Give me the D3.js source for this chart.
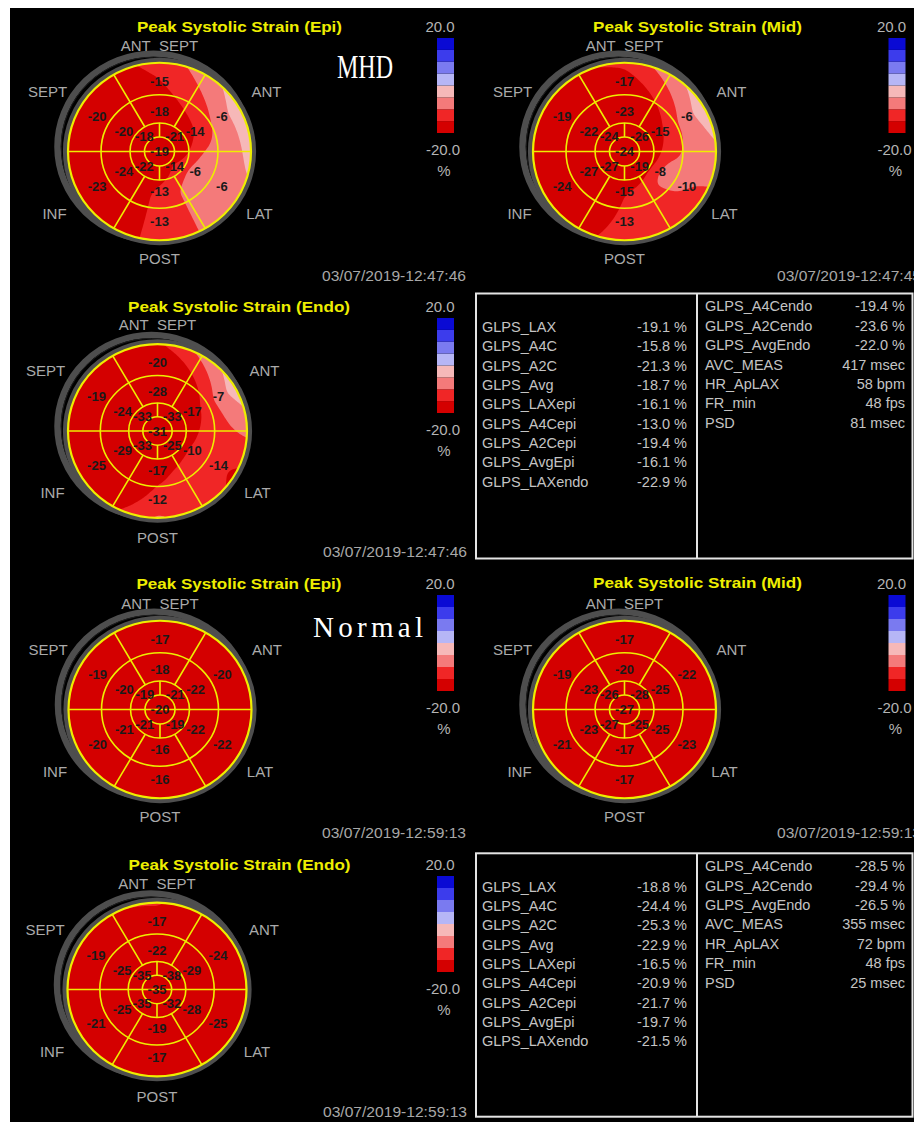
<!DOCTYPE html>
<html>
<head>
<meta charset="utf-8">
<script src="https://cdn.jsdelivr.net/npm/d3@7"></script>
<style>
  html, body { margin: 0; padding: 0; background: #fff; }
  svg { display: block; }
</style>
</head>
<body>
<svg id="chart" width="914" height="1122"></svg>
<script>
// 17-segment order: basal ANT_SEPT, ANT, LAT, POST, INF, SEPT;
// mid ANT_SEPT, ANT, LAT, POST, INF, SEPT;
// apical upper-right, upper-left, lower-left, lower-right; apex
const mhdEpi   = [-15, -6,  -6, -13, -23, -20,   -18, -14,  -6, -13, -24, -20,   -21, -18, -22, -14,   -19];
const mhdMid   = [-17, -6, -10, -13, -24, -19,   -23, -15,  -8, -15, -27, -22,   -26, -24, -27, -19,   -24];
const mhdEndo  = [-20, -7, -14, -12, -25, -19,   -28, -17, -10, -17, -29, -24,   -33, -33, -33, -25,   -31];
const normEpi  = [-17, -20, -22, -16, -20, -19,  -18, -22, -22, -16, -21, -20,   -21, -19, -21, -19,   -20];
const normMid  = [-17, -22, -23, -17, -21, -19,  -20, -25, -25, -17, -23, -23,   -28, -26, -27, -25,   -27];
const normEndo = [-17, -24, -25, -17, -21, -19,  -22, -29, -28, -19, -25, -25,   -38, -35, -35, -32,   -35];

const wallNames = ["ANT_SEPT", "ANT", "LAT", "POST", "INF", "SEPT"];

// colour bar: eight bands from -20 % (bottom) to +20 % (top)
const scaleTicks = ["20.0", "-20.0"];
const scaleUnit = "%";
const bandEdges = [-15, -10, -5, 0, 5, 10, 15];
const bandColors = ["#d40000", "#f02626", "#f47a7a", "#f6b8b8", "#b6b6f6", "#7a7af0", "#3c3cec", "#0a0ad4"];

// global strain tables
const leftLabels  = ["GLPS_LAX", "GLPS_A4C", "GLPS_A2C", "GLPS_Avg", "GLPS_LAXepi", "GLPS_A4Cepi", "GLPS_A2Cepi", "GLPS_AvgEpi", "GLPS_LAXendo"];
const rightLabels = ["GLPS_A4Cendo", "GLPS_A2Cendo", "GLPS_AvgEndo", "AVC_MEAS", "HR_ApLAX", "FR_min", "PSD"];
const mhdLeftValues   = ["-19.1 %", "-15.8 %", "-21.3 %", "-18.7 %", "-16.1 %", "-13.0 %", "-19.4 %", "-16.1 %", "-22.9 %"];
const mhdRightValues  = ["-19.4 %", "-23.6 %", "-22.0 %", "417 msec", "58 bpm", "48 fps", "81 msec"];
const normLeftValues  = ["-18.8 %", "-24.4 %", "-25.3 %", "-22.9 %", "-16.5 %", "-20.9 %", "-21.7 %", "-19.7 %", "-21.5 %"];
const normRightValues = ["-28.5 %", "-29.4 %", "-26.5 %", "355 msec", "72 bpm", "48 fps", "25 msec"];

const W = 914, H = 1122;
const svg = d3.select("#chart");
svg.append("rect").attr("width", W).attr("height", H).attr("fill", "#fff");
svg.append("rect").attr("x", 10).attr("y", 8).attr("width", W - 10).attr("height", H - 8).attr("fill", "#000");

const color = d3.scaleThreshold().domain(bandEdges).range(bandColors);

const SANS = "'Liberation Sans', Arial, sans-serif";
const YELLOW = "#eeee00";
const GREY = "#aaaaaa";

const ringAngles = [90, 30, -30, -90, -150, 150];
const apicalAngles = [45, 135, 225, 315];
const wallOffsets = [[0, -106], [107, -60], [100, 62], [0, 107], [-105, 62], [-112, -60]];

function segments(vals) {
  const out = [];
  ringAngles.forEach((a, i) => out.push({ ring: "basal", a, v: vals[i] }));
  ringAngles.forEach((a, i) => out.push({ ring: "mid", a, v: vals[6 + i] }));
  apicalAngles.forEach((a, i) => out.push({ ring: "apical", a, v: vals[12 + i] }));
  out.push({ ring: "apex", a: 0, v: vals[16] });
  return out;
}
const centroidR = { apex: 0, apical: 0.243, mid: 0.48, basal: 0.82 };
const labelR = { basal: 0.787, mid: 0.45, apical: 0.235, apex: 0 };
const rad = a => a * Math.PI / 180;
const norm360 = a => ((a % 360) + 360) % 360;

// periodic piecewise-linear interpolation around one ring
function ringScale(segs) {
  const s = segs.map(d => [norm360(d.a), d.v]).sort((p, q) => p[0] - q[0]);
  const first = s[0], last = s[s.length - 1];
  const dom = [last[0] - 360, ...s.map(d => d[0]), first[0] + 360];
  const rng = [last[1], ...s.map(d => d[1]), first[1]];
  return d3.scaleLinear().domain(dom).range(rng);
}

let clipCount = 0;
function drawBullseye(p) {
  const R = p.r, k = 0.97;
  const segs = segments(p.values);
  const g = svg.append("g").attr("transform", `translate(${p.cx},${p.cy})`);

  // wall names sit under the grey rim
  g.selectAll("text.wall").data(wallNames).join("text")
    .attr("class", "wall")
    .attr("x", (d, i) => wallOffsets[i][0])
    .attr("y", (d, i) => wallOffsets[i][1])
    .attr("dy", "0.35em")
    .attr("text-anchor", "middle")
    .attr("font-family", SANS).attr("font-size", 15)
    .attr("fill", GREY)
    .text(d => d);

  const geo = g.append("g").attr("transform", `scale(1,${k})`);
  geo.append("circle").attr("cx", -6).attr("cy", -5).attr("r", R + 4.5)
    .attr("fill", "none").attr("stroke", "#4e4e4e").attr("stroke-width", 6.5);
  geo.append("circle").attr("cx", -6).attr("cy", -5).attr("r", R + 0.8)
    .attr("fill", "none").attr("stroke", "#202020").attr("stroke-width", 1);
  geo.append("circle").attr("r", R + 2.6)
    .attr("fill", "none").attr("stroke", "#4e4e4e").attr("stroke-width", 5);

  // strain field: around each ring between segment centres, then
  // radially between ring centres (continuing the mid-to-basal trend to the rim)
  const basalS = ringScale(segs.filter(d => d.ring === "basal"));
  const midS = ringScale(segs.filter(d => d.ring === "mid"));
  const apicalS = ringScale(segs.filter(d => d.ring === "apical"));
  const apexV = segs.find(d => d.ring === "apex").v;
  const radii = [centroidR.apex, centroidR.apical, centroidR.mid, centroidR.basal].map(f => f * R);

  const step = 1.5, x0 = -R - 3;
  const n = Math.ceil((2 * R + 6) / step);
  const grid = new Float64Array(n * n);
  for (let j = 0; j < n; j++) {
    const y = x0 + (j + 0.5) * step;
    for (let i = 0; i < n; i++) {
      const x = x0 + (i + 0.5) * step;
      const r = Math.hypot(x, y);
      const th = norm360(Math.atan2(-y, x) * 180 / Math.PI);
      const radial = d3.scaleLinear().domain(radii)
        .range([apexV, apicalS(th), midS(th), basalS(th)]);
      grid[j * n + i] = radial(r);
    }
  }
  const data = Array.from(grid);
  if (d3.blur2) d3.blur2({ data, width: n, height: n }, 2);
  const bands = d3.contours().size([n, n]).thresholds(bandEdges)(data);
  const path = d3.geoPath(d3.geoIdentity().scale(step).translate([x0, x0]));

  const id = "disk" + (clipCount++);
  geo.append("clipPath").attr("id", id).append("circle").attr("r", R);
  const field = geo.append("g").attr("clip-path", `url(#${id})`);
  field.append("circle").attr("r", R).attr("fill", color(-Infinity));
  field.selectAll("path").data(bands).join("path")
    .attr("d", path).attr("fill", d => color(d.value));

  // segment grid
  const lines = geo.append("g").attr("stroke", YELLOW).attr("fill", "none").attr("stroke-width", 1.6);
  [0.639, 0.322, 0.164].forEach(f => lines.append("circle").attr("r", f * R));
  lines.append("circle").attr("r", R).attr("stroke-width", 2.2);
  lines.append("line").attr("x1", -R).attr("x2", R);
  [60, 120, 240, 300].forEach(a => lines.append("line")
    .attr("x1", 0.322 * R * Math.cos(rad(a))).attr("y1", -0.322 * R * Math.sin(rad(a)))
    .attr("x2", R * Math.cos(rad(a))).attr("y2", -R * Math.sin(rad(a))));
  [90, 270].forEach(a => lines.append("line")
    .attr("x1", 0).attr("y1", -0.164 * R * Math.sin(rad(a)))
    .attr("x2", 0).attr("y2", -0.322 * R * Math.sin(rad(a))));

  // segment values
  g.selectAll("text.val").data(segs).join("text")
    .attr("class", "val")
    .attr("x", d => labelR[d.ring] * R * Math.cos(rad(d.a)))
    .attr("y", d => -labelR[d.ring] * R * Math.sin(rad(d.a)) * k)
    .attr("dy", "0.35em")
    .attr("text-anchor", "middle")
    .attr("font-family", SANS).attr("font-size", 13).attr("font-weight", "bold")
    .attr("fill", "#1a1a1a")
    .text(d => d.v);
}

function drawScale(p) {
  const y = d3.scaleLinear().domain([-20, 20]).range([p.by + p.bh, p.by]);
  const lows = d3.range(-20, 20, 5);
  svg.append("g").selectAll("rect").data(lows).join("rect")
    .attr("x", p.bx).attr("width", 17)
    .attr("y", d => y(d + 5)).attr("height", d => y(d) - y(d + 5))
    .attr("fill", d => color(d));
  const t = svg.append("g").attr("font-family", SANS).attr("font-size", 15)
    .attr("fill", "#b4b4b4").attr("text-anchor", "middle");
  t.append("text").attr("x", p.bx + 3).attr("y", p.by - 11).attr("dy", "0.35em").text(scaleTicks[0]);
  t.append("text").attr("x", p.bx + 6).attr("y", p.by + p.bh + 17).attr("dy", "0.35em").text(scaleTicks[1]);
  t.append("text").attr("x", p.bx + 7).attr("y", p.by + p.bh + 38).attr("dy", "0.35em").text(scaleUnit);
}

function drawPanel(p) {
  svg.append("text").attr("x", p.tx).attr("y", p.ty).attr("dy", "0.35em")
    .attr("text-anchor", "middle")
    .attr("font-family", SANS).attr("font-size", 15.5).attr("font-weight", "bold")
    .attr("fill", YELLOW)
    .attr("textLength", p.tw).attr("lengthAdjust", "spacingAndGlyphs")
    .text(p.title);
  drawBullseye(p);
  drawScale(p);
  svg.append("text").attr("x", p.dx).attr("y", p.dy).attr("dy", "0.35em")
    .attr("font-family", SANS).attr("font-size", 14.5).attr("fill", "#a8a8a8")
    .attr("textLength", 144).attr("lengthAdjust", "spacingAndGlyphs")
    .text(p.date);
}

const panels = [
  { title: "Peak Systolic Strain (Epi)",  values: mhdEpi,   cx: 159.5, cy: 151.5, r: 91.5, tx: 239.5, ty: 27,  tw: 205, bx: 437,   by: 38,  bh: 95, dx: 322, dy: 276,  date: "03/07/2019-12:47:46" },
  { title: "Peak Systolic Strain (Mid)",  values: mhdMid,   cx: 624.5, cy: 151.5, r: 91.5, tx: 697.5, ty: 27,  tw: 209, bx: 888.5, by: 38,  bh: 95, dx: 777, dy: 276,  date: "03/07/2019-12:47:45" },
  { title: "Peak Systolic Strain (Endo)", values: mhdEndo,  cx: 157.5, cy: 431,   r: 89.5, tx: 239,   ty: 307, tw: 222, bx: 437,   by: 318, bh: 95, dx: 323, dy: 552,  date: "03/07/2019-12:47:46" },
  { title: "Peak Systolic Strain (Epi)",  values: normEpi,  cx: 160,   cy: 709.5, r: 91.5, tx: 239,   ty: 584, tw: 205, bx: 437,   by: 595, bh: 96, dx: 322, dy: 833,  date: "03/07/2019-12:59:13" },
  { title: "Peak Systolic Strain (Mid)",  values: normMid,  cx: 624.5, cy: 709.5, r: 91.5, tx: 697.5, ty: 583, tw: 209, bx: 888.5, by: 595, bh: 96, dx: 777, dy: 833,  date: "03/07/2019-12:59:13" },
  { title: "Peak Systolic Strain (Endo)", values: normEndo, cx: 157,   cy: 989.5, r: 89.5, tx: 239.5, ty: 865, tw: 222, bx: 437,   by: 876, bh: 96, dx: 323, dy: 1112, date: "03/07/2019-12:59:13" }
];
panels.forEach(drawPanel);

// group captions
svg.append("text").attr("x", 337).attr("y", 78)
  .attr("font-family", "'Liberation Serif', 'DejaVu Serif', serif").attr("font-size", 33)
  .attr("fill", "#fff").attr("textLength", 56).attr("lengthAdjust", "spacingAndGlyphs")
  .text("MHD");
svg.append("text").attr("x", 313).attr("y", 637)
  .attr("font-family", "'Liberation Serif', 'DejaVu Serif', serif").attr("font-size", 29)
  .attr("fill", "#fff").attr("textLength", 110).attr("lengthAdjust", "spacing")
  .text("Normal");

function drawTable(top, bottom, leftVals, rightVals) {
  const x0 = 476, x1 = 912.5, xm = 697;
  const g = svg.append("g");
  g.append("rect").attr("x", x0).attr("y", top).attr("width", x1 - x0).attr("height", bottom - top)
    .attr("fill", "none").attr("stroke", "#e4e4e4").attr("stroke-width", 2);
  g.append("line").attr("x1", xm).attr("x2", xm).attr("y1", top).attr("y2", bottom)
    .attr("stroke", "#e4e4e4").attr("stroke-width", 2);
  const txt = g.append("g").attr("font-family", SANS).attr("font-size", 14.5).attr("fill", "#c4c4c4");
  const rowL = i => top + 33.3 + i * 19.33;
  const rowR = i => top + 12.8 + i * 19.4;
  txt.selectAll("text.ll").data(leftLabels).join("text").attr("class", "ll")
    .attr("x", 482).attr("y", (d, i) => rowL(i)).attr("dy", "0.35em").text(d => d);
  txt.selectAll("text.lv").data(leftVals).join("text").attr("class", "lv")
    .attr("x", 687).attr("y", (d, i) => rowL(i)).attr("dy", "0.35em")
    .attr("text-anchor", "end").text(d => d);
  txt.selectAll("text.rl").data(rightLabels).join("text").attr("class", "rl")
    .attr("x", 705).attr("y", (d, i) => rowR(i)).attr("dy", "0.35em").text(d => d);
  txt.selectAll("text.rv").data(rightVals).join("text").attr("class", "rv")
    .attr("x", 905).attr("y", (d, i) => rowR(i)).attr("dy", "0.35em")
    .attr("text-anchor", "end").text(d => d);
}
drawTable(293.5, 558.5, mhdLeftValues, mhdRightValues);
drawTable(853.3, 1116.7, normLeftValues, normRightValues);
</script>
</body>
</html>
